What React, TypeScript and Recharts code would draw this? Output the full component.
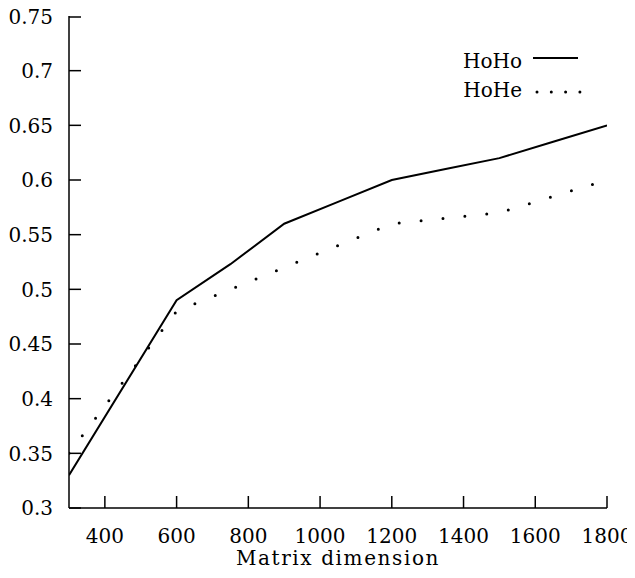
import { LineChart, Line, XAxis, YAxis } from "recharts"

const hohoX = [300, 600, 750, 900, 1050, 1200, 1350, 1500, 1650, 1800]
const hohoY = [0.33, 0.49, 0.523, 0.56, 0.58, 0.6, 0.61, 0.62, 0.635, 0.65]

const hoheX = [300, 600, 900, 1200, 1500, 1800]
const hoheY = [0.35, 0.48, 0.52, 0.56, 0.57, 0.6]

const xTicks = [400, 600, 800, 1000, 1200, 1400, 1600, 1800]
const yTicks = [0.3, 0.35, 0.4, 0.45, 0.5, 0.55, 0.6, 0.65, 0.7, 0.75]

const FONT = "'DejaVu Serif', serif"
const TICK_LEN = 12

// inward tick mark, with optional label; x/y arrive on the axis line (tickSize/tickMargin = 0)
function makeTick(side: "bottom" | "top" | "left" | "right", showLabel: boolean) {
  return (props: any) => {
    const { x, y, payload } = props
    let line = { x1: x, y1: y, x2: x, y2: y }
    if (side === "bottom") line.y2 = y - TICK_LEN
    if (side === "top") line.y2 = y + TICK_LEN
    if (side === "left") line.x2 = x + TICK_LEN
    if (side === "right") line.x2 = x - TICK_LEN
    return (
      <g>
        <line {...line} stroke="#000" strokeWidth={1.5} />
        {showLabel && side === "bottom" && (
          <text x={x} y={y + 35} textAnchor="middle" fontSize={20} fontFamily={FONT} fill="#000">
            {payload.value}
          </text>
        )}
        {showLabel && side === "left" && (
          <text x={x - 16} y={y} dy="0.36em" textAnchor="end" fontSize={20} fontFamily={FONT} fill="#000">
            {payload.value}
          </text>
        )}
      </g>
    )
  }
}

export default function App() {
  const hoho = hohoX.map((x, i) => ({ x, y: hohoY[i] }))
  const hohe = hoheX.map((x, i) => ({ x, y: hoheY[i] }))

  return (
    <div style={{ position: "relative", width: 619, height: 562 }}>
      <style>{`svg { overflow: visible; }`}</style>
      <LineChart width={619} height={562} margin={{ top: 8, right: 20, left: 6, bottom: 0 }}>
        <XAxis
          xAxisId="b"
          type="number"
          dataKey="x"
          domain={[300, 1800]}
          ticks={xTicks}
          allowDataOverflow
          height={62}
          stroke="#000"
          strokeWidth={1.5}
          tickSize={0}
          tickMargin={0}
          tickLine={false}
          tick={makeTick("bottom", true)}
          label={{
            value: "Matrix dimension",
            position: "insideBottom",
            offset: 5,
            fontSize: 20,
            fill: "#000",
            fontFamily: FONT,
            letterSpacing: 1.6,
          }}
        />
        <XAxis
          xAxisId="t"
          orientation="top"
          type="number"
          dataKey="x"
          domain={[300, 1800]}
          ticks={xTicks}
          allowDataOverflow
          height={0}
          stroke="#000"
          strokeWidth={1.5}
          tickSize={0}
          tickMargin={0}
          tickLine={false}
          tick={makeTick("top", false)}
        />
        <YAxis
          yAxisId="l"
          type="number"
          dataKey="y"
          domain={[0.3, 0.75]}
          ticks={yTicks}
          allowDataOverflow
          width={55}
          stroke="#000"
          strokeWidth={1.5}
          tickSize={0}
          tickMargin={0}
          tickLine={false}
          tick={makeTick("left", true)}
        />
        <YAxis
          yAxisId="r"
          orientation="right"
          type="number"
          dataKey="y"
          domain={[0.3, 0.75]}
          ticks={yTicks}
          allowDataOverflow
          width={0}
          stroke="#000"
          strokeWidth={1.5}
          tickSize={0}
          tickMargin={0}
          tickLine={false}
          tick={makeTick("right", false)}
        />
        <Line
          xAxisId="b"
          yAxisId="l"
          data={hoho}
          dataKey="y"
          stroke="#000"
          strokeWidth={2}
          dot={false}
          isAnimationActive={false}
        />
        <Line
          xAxisId="b"
          yAxisId="l"
          data={hohe}
          dataKey="y"
          stroke="#000"
          strokeWidth={3}
          strokeDasharray="0 22"
          strokeLinecap="round"
          dot={false}
          isAnimationActive={false}
        />
      </LineChart>
      <svg
        width={619}
        height={562}
        style={{ position: "absolute", left: 0, top: 0, pointerEvents: "none" }}
      >
        <text x={514} y={60} textAnchor="end" fontSize={20} fontFamily={FONT} fill="#000">
          HoHo
        </text>
        <line x1={525} y1={50} x2={570} y2={50} stroke="#000" strokeWidth={2} />
        <text x={514} y={89} textAnchor="end" fontSize={20} fontFamily={FONT} fill="#000">
          HoHe
        </text>
        <line
          x1={529}
          y1={84}
          x2={572}
          y2={84}
          stroke="#000"
          strokeWidth={3}
          strokeDasharray="0 14.3"
          strokeLinecap="round"
        />
      </svg>
    </div>
  )
}
